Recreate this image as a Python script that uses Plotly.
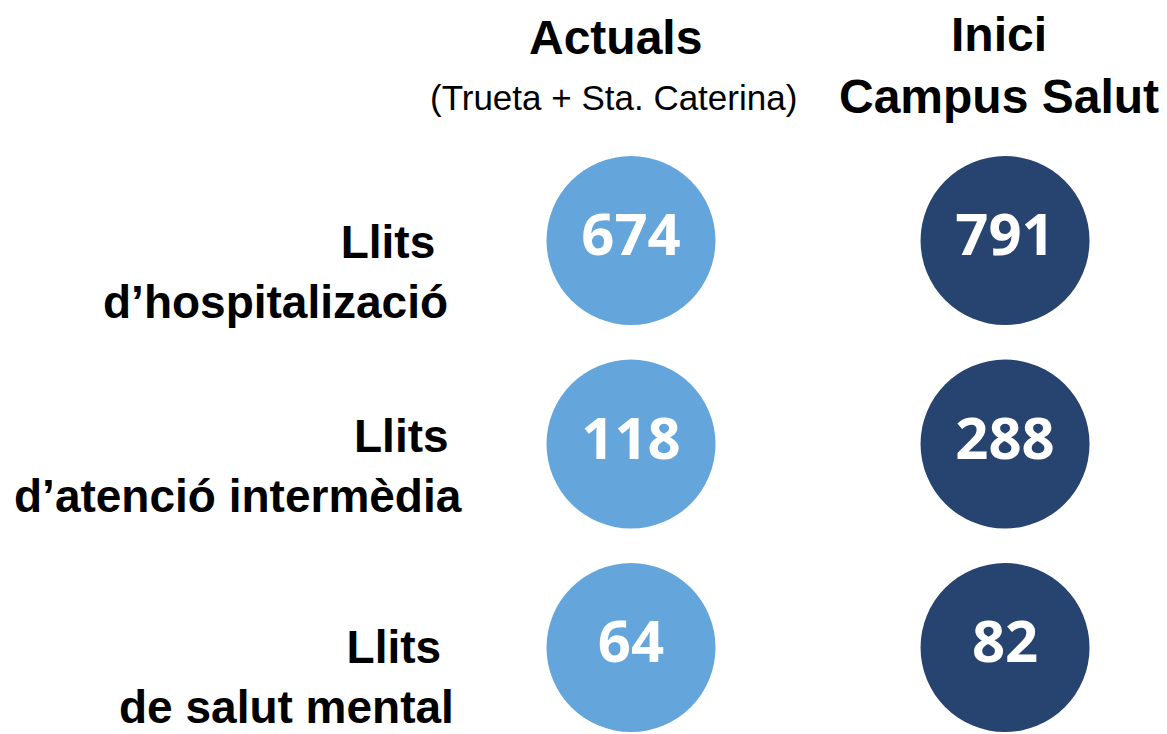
import plotly.graph_objects as go

# data
columns = ["Actuals", "Inici Campus Salut"]
rows = ["hospitalitzacio", "atencio intermedia", "salut mental"]
row_labels = [
    "Llits\u00a0<br>d\u2019hospitalizació",
    "Llits\u00a0<br>d\u2019atenció intermèdia",
    "Llits\u00a0<br>de salut mental",
]
actuals = [674, 118, 64]
campus = [791, 288, 82]

light_blue = "#64A6DC"
navy = "#27436F"

W, H = 1167, 734


def px(x):
    return x / W


def py(y):
    return 1 - y / H


fig = go.Figure()

for name, values, color in [
    (columns[0], actuals, light_blue),
    (columns[1], campus, navy),
]:
    fig.add_trace(
        go.Scatter(
            x=[name] * len(rows),
            y=rows,
            mode="markers+text",
            text=[str(v) for v in values],
            textposition="middle center",
            textfont=dict(family="Open Sans", size=58, color="white", weight="bold"),
            marker=dict(size=169, color=color, line=dict(width=0)),
            showlegend=False,
            hoverinfo="skip",
        )
    )

# row labels, first line level with the circle centre
for r, lab, right, shift in zip(rows, row_labels, [450, 464, 456], [-31, -22, -29]):
    fig.add_annotation(
        x=px(right),
        xref="paper",
        y=r,
        yref="y",
        text=lab,
        showarrow=False,
        xanchor="right",
        yanchor="middle",
        align="right",
        yshift=shift,
        font=dict(family="Liberation Sans", size=46, color="black", weight="bold"),
    )

# column headers
fig.add_annotation(
    x=px(615), y=py(37), xref="paper", yref="paper",
    text="<b>Actuals</b>", showarrow=False, xanchor="center", yanchor="middle",
    font=dict(family="Liberation Sans", size=48, color="black"),
)
fig.add_annotation(
    x=px(613), y=py(97), xref="paper", yref="paper",
    text="(Trueta + Sta. Caterina)", showarrow=False, xanchor="center", yanchor="middle",
    font=dict(family="Liberation Sans", size=35, color="black"),
)
fig.add_annotation(
    x=px(999), y=py(65), xref="paper", yref="paper",
    text="<b>Inici<br>Campus Salut</b>", showarrow=False, xanchor="center", yanchor="middle",
    font=dict(family="Liberation Sans", size=48, color="black"),
)

# circle centres: x at 631 / 1005 px, rows at ~240 / 444 / 648 px
fig.update_xaxes(
    range=[-1.687, 1.433], visible=False, showgrid=False, zeroline=False,
    categoryorder="array", categoryarray=columns,
)
fig.update_yaxes(
    range=[2.425, -1.182], visible=False, showgrid=False, zeroline=False,
    categoryorder="array", categoryarray=rows,
)
fig.update_layout(
    width=W,
    height=H,
    margin=dict(l=0, r=0, t=0, b=0),
    plot_bgcolor="white",
    paper_bgcolor="white",
)

fig.write_html(
    "out.html",
    config={"displayModeBar": False},
    post_script="document.body.style.margin='0';document.body.style.overflow='hidden';",
)
